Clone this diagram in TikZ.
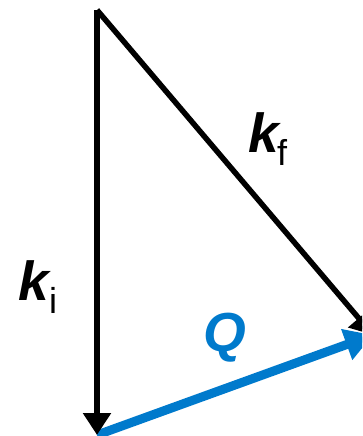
\documentclass[tikz,border=0pt]{standalone}
\usepackage{fontspec}
\setmainfont{Liberation Sans}
\usetikzlibrary{arrows.meta,positioning}

\begin{document}
\begin{tikzpicture}[x=1pt, y=-1pt]
	% Colores
	\definecolor{qblue}{RGB}{0, 122, 204} % Azul del vector Q
	
	% --- Marco de la figura ---
	\useasboundingbox (0,0) rectangle (362,436);
	\clip (0,0) rectangle (362,436);
	
	% --- Vértices del triángulo ---
	\coordinate (O) at (97,10);     % Origen común
	\coordinate (Ki) at (97,435);   % Punta de k_i
	\coordinate (Kf) at (373,335);  % Punta de k_f (y de Q)
	
	% --- Estilos ---
	\tikzset{vecblack/.style={line width=5.5pt, -{Triangle[length=22pt,width=27pt]}},
		vecblue/.style={qblue, line width=9pt, -{Triangle[length=28pt,width=31pt]}},
		veclabel/.style={anchor=base west, inner sep=0pt, font=\fontsize{55}{55}\selectfont\bfseries\itshape},
		subfont/.style={anchor=base west, inner sep=0pt, font=\fontsize{36}{36}\selectfont}}
	
	% --- Vectores ---
	\draw[vecblue] (Ki) -- (Kf);   % Q
	\draw[vecblack] (O) -- (Ki);   % k_i
	\draw[vecblack] (O) -- (Kf);   % k_f
	
	% --- Etiquetas ---
	\node[veclabel] (lkf) at (248,152) {k};
	\node[subfont] (skf) at (277,165) {f};
	\node[veclabel] (lki) at (18,300) {k};
	\node[subfont] (ski) at (49,313) {i};
	\node[veclabel, text=qblue] (lq) at (203,351) {Q};
	
\end{tikzpicture}
\end{document}
